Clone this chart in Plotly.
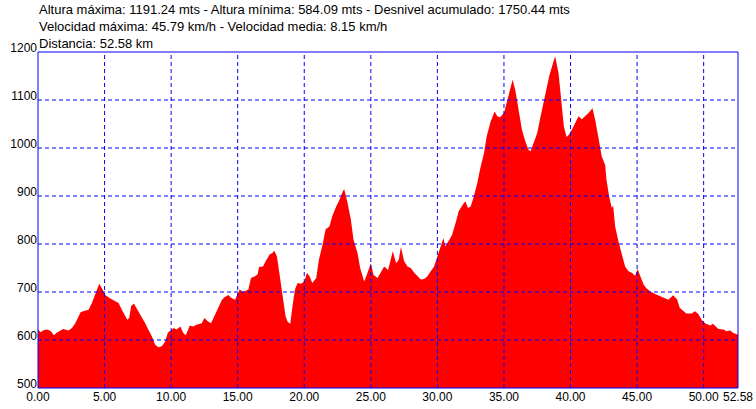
import plotly.graph_objects as go

distance_km = [0, 0.2, 0.45, 0.7, 0.95, 1.2, 1.4, 1.9, 2.3, 2.55, 2.8, 3.05, 3.2, 3.4, 3.8, 4.05, 4.3, 4.6, 4.8,
               5.05, 5.4, 5.8, 6.05, 6.3, 6.7, 6.85, 7.0, 7.2, 7.4, 7.7, 8.05, 8.3, 8.55, 8.8, 9.05, 9.3, 9.55,
               9.75, 9.9, 10.2, 10.4, 10.7, 10.9, 11.1, 11.4, 11.65, 11.9, 12.3, 12.5, 12.75, 13.0, 13.3, 13.5,
               13.8, 14.0, 14.3, 14.5, 14.8, 15.15, 15.4, 15.8, 16.0, 16.3, 16.5, 16.6, 16.9, 17.1, 17.4, 17.6,
               17.75, 17.95, 18.1, 18.3, 18.45, 18.6, 18.75, 18.95, 19.1, 19.3, 19.5, 19.75, 20.0, 20.2, 20.4,
               20.6, 20.9, 21.1, 21.4, 21.6, 21.9, 22.1, 22.4, 22.6, 22.9, 23.0, 23.2, 23.5, 23.7, 24.0, 24.2,
               24.5, 24.7, 25.0, 25.2, 25.5, 25.8, 26.0, 26.3, 26.45, 26.65, 26.9, 27.1, 27.26, 27.5, 27.76,
               28.0, 28.26, 28.5, 28.76, 29.0, 29.25, 29.5, 29.75, 30.0, 30.25, 30.45, 30.6, 30.9, 31.1, 31.4,
               31.6, 31.9, 32.1, 32.3, 32.5, 32.7, 33.0, 33.2, 33.5, 33.7, 34.0, 34.3, 34.5, 34.7, 35.0, 35.2,
               35.5, 35.65, 35.85, 36.1, 36.35, 36.6, 36.85, 37.0, 37.2, 37.5, 37.7, 38.0, 38.2, 38.4, 38.6,
               38.84, 39.1, 39.35, 39.5, 39.7, 39.9, 40.1, 40.35, 40.6, 40.85, 41.1, 41.35, 41.65, 41.85, 42.1,
               42.35, 42.6, 42.7, 42.9, 43.1, 43.2, 43.35, 43.6, 43.85, 44.1, 44.35, 44.6, 44.85, 45.05, 45.2,
               45.5, 45.7, 46.0, 46.35, 46.7, 47.1, 47.35, 47.7, 48.0, 48.2, 48.5, 48.7, 49.1, 49.35, 49.6,
               49.85, 50.1, 50.5, 50.7, 51.1, 51.5, 51.7, 52.0, 52.2, 52.58]

altitude_m = [622, 616, 621, 622, 619, 610, 615, 623, 620, 625, 635, 649, 658, 660, 663, 677, 696, 717, 708,
              694, 687, 680, 677, 663, 642, 646, 671, 676, 667, 653, 635, 621, 608, 590, 585, 587, 597,
              615, 618, 625, 622, 628, 615, 610, 630, 628, 632, 635, 646, 639, 635, 653, 665,
              683, 689, 694, 688, 684, 705, 700, 705, 729, 733, 737, 752, 753, 764, 778, 781,
              786, 774, 743, 708, 677, 649, 638, 634, 667, 705, 719, 717, 722, 740, 733,
              719, 729, 767, 802, 830, 837, 858, 878, 889, 910, 914, 892, 851, 809, 781, 750,
              722, 736, 760, 736, 729, 743, 753, 746, 764, 785, 760, 767, 794, 764, 753,
              750, 740, 734, 726, 727, 733, 743, 753, 774, 795, 812, 795, 809, 819, 847,
              868, 882, 889, 875, 878, 896, 927, 955, 989, 1024, 1055, 1076, 1066, 1064, 1073, 1094,
              1128, 1142, 1121, 1076, 1038, 1014, 996, 993, 1010, 1031, 1059, 1100, 1125, 1150, 1169,
              1191, 1156, 1090, 1045, 1023, 1028, 1038, 1052, 1066, 1060, 1066, 1073, 1083, 1059, 1021,
              982, 965, 934, 899, 875, 880, 837, 805, 781, 753, 743, 740, 734, 748, 736,
              715, 708, 701, 696, 691, 687, 684, 693, 685, 667, 660, 655, 655, 660, 654,
              642, 635, 630, 634, 623, 622, 618, 620, 615, 611]

x_ticks = [0, 5, 10, 15, 20, 25, 30, 35, 40, 45, 50, 52.58]
y_ticks = [500, 600, 700, 800, 900, 1000, 1100, 1200]

header_lines = [
    "Altura máxima: 1191.24 mts - Altura mínima: 584.09 mts - Desnivel acumulado: 1750.44 mts",
    "Velocidad máxima: 45.79 km/h - Velocidad media: 8.15 km/h",
    "Distancia: 52.58 km",
]

W, H = 756, 409
M_L, M_R, M_T, M_B = 38, 18, 52, 21
plot_h = H - M_T - M_B
FAMILY = "Liberation Sans, Arial, sans-serif"
tick_font = dict(family=FAMILY, size=12, color="black")
head_font = dict(family=FAMILY, size=13, color="black")
BLUE = "#0000FF"

fig = go.Figure()
fig.add_trace(go.Scatter(
    x=distance_km, y=altitude_m, mode="lines",
    line=dict(color="#FF0000", width=0), fill="tozeroy", fillcolor="#FF0000",
    hoverinfo="x+y", showlegend=False,
))

shapes = []
grid_line = dict(color=BLUE, width=1, dash="4px,3px")
for xv in x_ticks[1:-1]:
    shapes.append(dict(type="line", xref="x", yref="paper", x0=xv, x1=xv, y0=0, y1=1,
                       line=grid_line, layer="above"))
for yv in y_ticks[1:-1]:
    shapes.append(dict(type="line", xref="paper", yref="y", x0=0, x1=1, y0=yv, y1=yv,
                       line=grid_line, layer="above"))
shapes.append(dict(type="rect", xref="paper", yref="paper", x0=0, x1=1, y0=0, y1=1,
                   line=dict(color=BLUE, width=1), layer="above"))

line_centers_px = [9, 26, 43]
annotations = []
for txt, cy in zip(header_lines, line_centers_px):
    annotations.append(dict(
        text=txt, xref="paper", yref="paper", x=0, xanchor="left",
        y=(H - M_B - cy) / plot_h, yanchor="middle", showarrow=False, font=head_font,
        xshift=-1,
    ))

fig.update_layout(
    width=W, height=H,
    margin=dict(l=M_L, r=M_R, t=M_T, b=M_B, pad=0),
    paper_bgcolor="white", plot_bgcolor="white",
    font=tick_font,
    shapes=shapes, annotations=annotations,
    xaxis=dict(range=[0, 52.58], tickvals=x_ticks, ticktext=[f"{v:.2f}" for v in x_ticks],
               showgrid=False, zeroline=False, ticks="", showline=False, tickfont=tick_font,
               automargin=False),
    yaxis=dict(range=[500, 1200], tickvals=y_ticks, ticktext=[str(v) for v in y_ticks],
               showgrid=False, zeroline=False, ticks="", showline=False, tickfont=tick_font,
               automargin=False, ticklabelshift=-4, ticklabelstandoff=0),
)

fig.write_html(
    "out.html",
    config={"displayModeBar": False},
    post_script="document.body.style.margin='0';document.body.style.padding='0';",
)
